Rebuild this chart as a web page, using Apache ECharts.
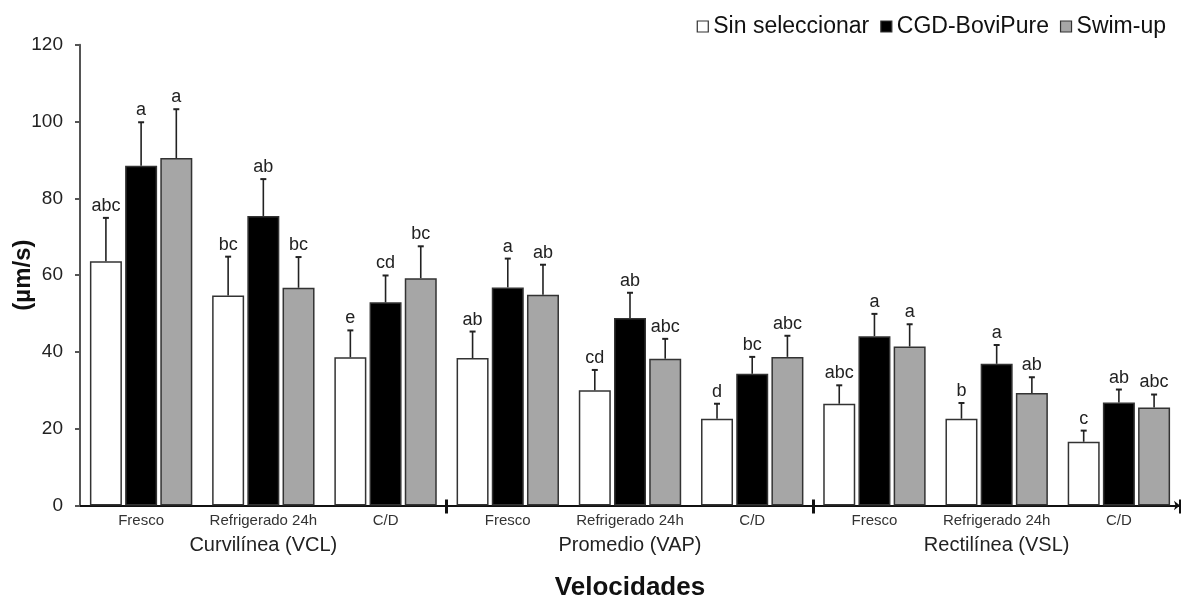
<!DOCTYPE html>
<html>
<head>
<meta charset="utf-8">
<script src="https://cdn.jsdelivr.net/npm/echarts@6/dist/echarts.min.js"></script>
<style>
html,body{margin:0;padding:0;background:#fff;}
#chart{width:1181px;height:599px;}
</style>
</head>
<body>
<div id="chart"></div>
<script>
const categories = ['Fresco','Refrigerado 24h','C/D','Fresco','Refrigerado 24h','C/D','Fresco','Refrigerado 24h','C/D'];
const sections = ['Curvilínea (VCL)','Promedio (VAP)','Rectilínea (VSL)'];
const seriesNames = ['Sin seleccionar','CGD-BoviPure','Swim-up'];
const yTicks = [0, 20, 40, 60, 80, 100, 120];

const sinSel    = [63.6, 54.7, 38.6, 38.4, 30.0, 22.6, 26.5, 22.6, 16.6];
const sinSelErr = [11.3, 10.1, 7.0, 6.9, 5.3, 3.9, 4.8, 4.1, 2.9];
const sinSelLet = ['abc','bc','e','ab','cd','d','abc','b','c'];

const cgd    = [88.5, 75.4, 52.9, 56.8, 48.8, 34.3, 44.1, 36.9, 26.8];
const cgdErr = [11.3, 9.6, 7.0, 7.5, 6.6, 4.4, 5.8, 4.9, 3.4];
const cgdLet = ['a','ab','cd','a','ab','bc','a','a','ab'];

const swim    = [90.5, 56.7, 59.2, 54.9, 38.2, 38.7, 41.4, 29.3, 25.5];
const swimErr = [12.7, 8.0, 8.3, 7.8, 5.2, 5.5, 5.8, 4.1, 3.4];
const swimLet = ['a','bc','bc','ab','abc','abc','a','ab','abc'];

const FONT = '"Liberation Sans", Arial, sans-serif';
const BAR_W = 32;
const BAR_GAP = 3.2;
const fills = ['#ffffff', '#000000', '#a6a6a6'];
const vals = [sinSel, cgd, swim];
const errs = [sinSelErr, cgdErr, swimErr];
const lets = [sinSelLet, cgdLet, swimLet];

const chart = echarts.init(document.getElementById('chart'), null, {renderer: 'canvas'});

const barSeries = seriesNames.map((name, s) => ({
  name: name,
  type: 'bar',
  xAxisIndex: 0,
  barWidth: BAR_W,
  barGap: '10%',
  data: vals[s],
  itemStyle: {color: fills[s], borderColor: '#333', borderWidth: 1.5},
  emphasis: {disabled: true},
  z: 2
}));

const errSeries = seriesNames.map((name, s) => ({
  type: 'custom',
  xAxisIndex: 0,
  silent: true,
  z: 3,
  data: vals[s].map((v, i) => [i, v, errs[s][i]]),
  renderItem: function (params, api) {
    const idx = api.value(0);
    const v = api.value(1);
    const e = api.value(2);
    const letter = lets[s][idx];
    const off = (s - 1) * (BAR_W + BAR_GAP);
    const p0 = api.coord([idx, v]);
    const p1 = api.coord([idx, v + e]);
    const x = p0[0] + off;
    return {
      type: 'group',
      children: [
        {type: 'line', shape: {x1: x, y1: p0[1], x2: x, y2: p1[1]}, style: {stroke: '#222', lineWidth: 1.6}},
        {type: 'line', shape: {x1: x - 3, y1: p1[1], x2: x + 3, y2: p1[1]}, style: {stroke: '#222', lineWidth: 2}},
        {type: 'text', x: x, y: p1[1] - 3, style: {text: letter, fill: '#222', font: '18px ' + FONT, align: 'center', verticalAlign: 'bottom'}}
      ]
    };
  }
}));

const option = {
  backgroundColor: '#fff',
  animation: false,
  textStyle: {fontFamily: FONT},
  legend: {
    data: seriesNames.map((n, s) => ({name: n, itemStyle: {color: fills[s], borderColor: '#333', borderWidth: 1.2}})),
    right: 10,
    top: 10,
    icon: 'rect',
    itemWidth: 11,
    itemHeight: 11,
    itemGap: 11,
    textStyle: {fontSize: 23, color: '#111', fontFamily: FONT}
  },
  grid: {left: 80, right: 1, top: 44.7, bottom: 93.5, containLabel: false, outerBoundsMode: 'none'},
  xAxis: [
    {
      type: 'category',
      data: categories,
      position: 'bottom',
      axisLine: {show: true, lineStyle: {color: '#111', width: 2}, symbol: ['none', 'arrow'], symbolSize: [7, 6]},
      axisTick: {show: true, alignWithLabel: false, interval: function (i) { return i === 3 || i === 6; }, length: 8, lineStyle: {color: '#111', width: 3}},
      axisLabel: {interval: 0, fontSize: 15, color: '#333', margin: 8, fontFamily: FONT}
    },
    {
      type: 'category',
      data: sections,
      position: 'bottom',
      axisLine: {show: false},
      axisTick: {show: true, inside: true, alignWithLabel: false, interval: function (i) { return i === 1 || i === 2; }, length: 6, lineStyle: {color: '#111', width: 3}},
      axisLabel: {interval: 0, fontSize: 20, color: '#222', margin: 30, fontFamily: FONT},
      name: 'Velocidades',
      nameLocation: 'middle',
      nameGap: 69,
      nameMoveOverlap: false,
      nameTextStyle: {fontSize: 26, fontWeight: 'bold', color: '#111', fontFamily: FONT}
    }
  ],
  yAxis: {
    type: 'value',
    min: yTicks[0],
    max: yTicks[yTicks.length - 1],
    interval: yTicks[1] - yTicks[0],
    name: '(µm/s)',
    nameLocation: 'middle',
    nameGap: 45,
    nameRotate: 90,
    nameMoveOverlap: false,
    nameTextStyle: {fontSize: 24, fontWeight: 'bold', color: '#111', fontFamily: FONT},
    axisLine: {show: true, lineStyle: {color: '#555', width: 2}},
    axisTick: {show: true, length: 5, lineStyle: {color: '#555', width: 2}},
    axisLabel: {fontSize: 19, color: '#222', margin: 17, fontFamily: FONT},
    splitLine: {show: false}
  },
  series: barSeries.concat(errSeries)
};

chart.setOption(option);
</script>
</body>
</html>
